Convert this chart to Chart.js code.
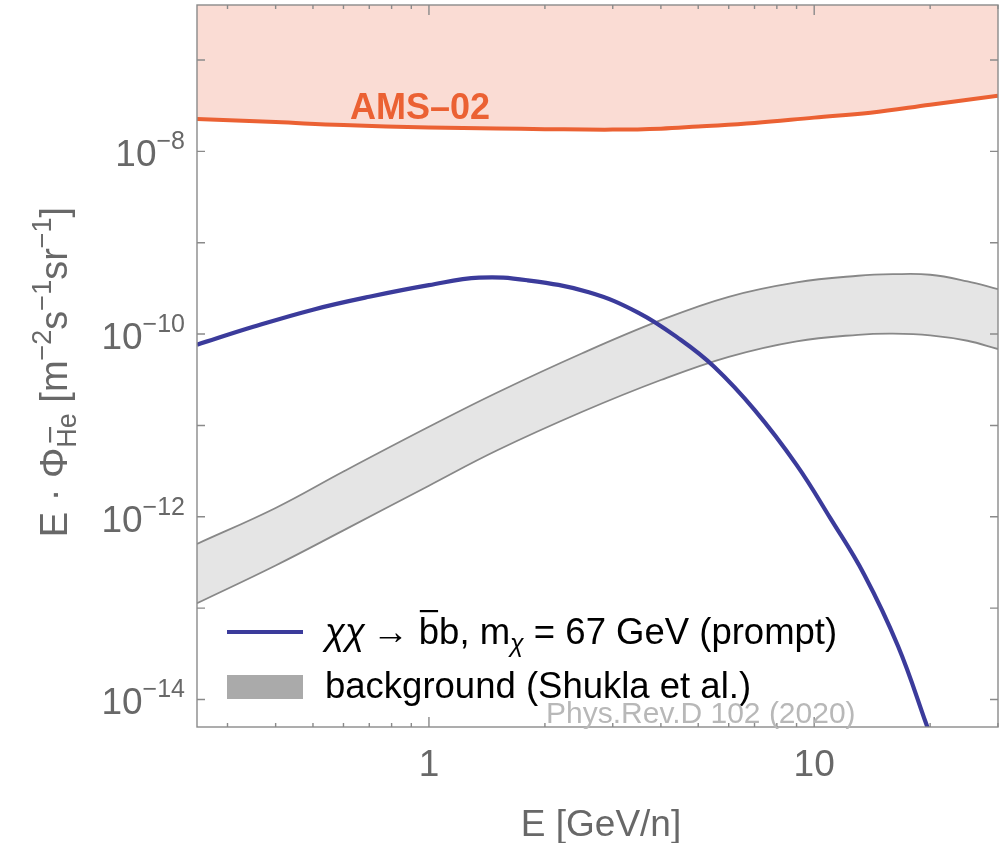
<!DOCTYPE html>
<html lang="en">
<head>
<meta charset="UTF-8">
<title>Antihelium flux</title>
<script src="https://cdn.jsdelivr.net/npm/chart.js"></script>
<style>
  html, body { margin: 0; padding: 0; background: #fff; }
  #wrap { width: 1007px; height: 843px; }
</style>
</head>
<body>
<div id="wrap"><canvas id="fluxChart" width="1007" height="843"></canvas></div>
<script>
  // AMS-02 sensitivity (lower edge of the shaded region)
  const amsEnergy = [0.25, 0.4, 0.6, 1, 1.5, 2, 3, 4, 5, 7, 10, 14, 20, 30];
  const amsFlux = [2.26e-8, 2.09e-8, 1.94e-8, 1.83e-8, 1.78e-8, 1.75e-8, 1.73e-8, 1.77e-8, 1.87e-8, 2.04e-8, 2.34e-8, 2.65e-8, 3.24e-8, 4.07e-8];

  // chi chi -> b bbar, m = 67 GeV (prompt)
  const dmEnergy = [0.25, 0.35, 0.5, 0.7, 1.0, 1.35, 1.8, 2.6, 3.5, 4.5, 5.5, 7, 9, 11, 13.5, 16.5, 19.5, 21];
  const dmFlux = [7.64e-11, 1.20e-10, 1.85e-10, 2.56e-10, 3.43e-10, 4.14e-10, 3.88e-10, 2.87e-10, 1.71e-10, 8.67e-11, 4.39e-11, 1.48e-11, 3.70e-12, 9.72e-13, 2.31e-13, 3.85e-14, 5.52e-15, 2.2e-15];

  // background band (Shukla et al.)
  const bgEnergy = [0.25, 0.4, 0.6, 1, 1.5, 2.5, 4, 6, 9, 13, 16, 20, 25, 30];
  const bgHigh = [5.05e-13, 1.25e-12, 3.13e-12, 9.66e-12, 2.28e-11, 6.17e-11, 1.42e-10, 2.56e-10, 3.68e-10, 4.35e-10, 4.52e-10, 4.46e-10, 3.78e-10, 3.11e-10];
  const bgLow = [1.13e-13, 2.93e-13, 7.10e-13, 2.19e-12, 5.31e-12, 1.41e-11, 3.14e-11, 5.64e-11, 8.34e-11, 9.82e-11, 1.01e-10, 9.70e-11, 8.45e-11, 6.86e-11];

  // axis ticks
  const xLabelTicks = [1, 10];
  const xMinorTicks = [0.3, 0.4, 0.5, 0.6, 0.7, 0.8, 0.9, 2, 3, 4, 5, 6, 7, 8, 9, 20, 30];
  const yLabelExps = [-14, -12, -10, -8];
  const yMinorExps = [-13, -11, -9, -7];

  const FONT = "'Liberation Sans', Arial, sans-serif";
  const BLUE = '#3b3b9b';
  const ORANGE = '#eb6133';

  const pts = (xs, ys) => xs.map((x, i) => ({ x: x, y: ys[i] }));

  function runsWidth(ctx, runs) {
    let w = 0;
    runs.forEach(r => { ctx.font = r.font; w += ctx.measureText(r.text).width; });
    return w;
  }

  function drawRuns(ctx, runs, x, y, align) {
    const w = runsWidth(ctx, runs);
    let cx = align === 'center' ? x - w / 2 : (align === 'right' ? x - w : x);
    runs.forEach(r => {
      ctx.font = r.font;
      const rw = ctx.measureText(r.text).width;
      const by = y + (r.dy || 0);
      ctx.fillText(r.text, cx, by);
      if (r.bar) {
        ctx.fillRect(cx + rw * r.bar[0], by - r.bar[2], rw * (r.bar[1] - r.bar[0]), 2.2);
      }
      cx += rw;
    });
  }

  const decorPlugin = {
    id: 'decor',
    afterDatasetsDraw(chart) {
      const ctx = chart.ctx;
      const area = chart.chartArea;
      const xs = chart.scales.x;
      const ys = chart.scales.y;
      ctx.save();

      // frame
      ctx.strokeStyle = '#8a8a8a';
      ctx.lineWidth = 1.4;
      ctx.strokeRect(area.left, area.top, area.right - area.left, area.bottom - area.top);

      // inward ticks
      ctx.beginPath();
      xLabelTicks.concat(xMinorTicks).forEach(v => {
        const px = xs.getPixelForValue(v);
        const len = xLabelTicks.includes(v) ? 10 : 4;
        ctx.moveTo(px, area.bottom); ctx.lineTo(px, area.bottom - len);
        ctx.moveTo(px, area.top); ctx.lineTo(px, area.top + len);
      });
      yLabelExps.concat(yMinorExps).forEach(e => {
        const py = ys.getPixelForValue(Math.pow(10, e));
        ctx.moveTo(area.left, py); ctx.lineTo(area.left + 8, py);
        ctx.moveTo(area.right, py); ctx.lineTo(area.right - 8, py);
      });
      ctx.stroke();

      // tick labels
      ctx.fillStyle = '#686868';
      ctx.textBaseline = 'alphabetic';
      yLabelExps.forEach(e => {
        const py = ys.getPixelForValue(Math.pow(10, e));
        drawRuns(ctx, [
          { text: '10', font: '37px ' + FONT },
          { text: '\u2212' + Math.abs(e), font: '25px ' + FONT, dy: -17 }
        ], area.left - 12, py + 15, 'right');
      });
      ctx.font = '37px ' + FONT;
      ctx.textAlign = 'center';
      xLabelTicks.forEach(v => {
        ctx.fillText(String(v), xs.getPixelForValue(v), 776);
      });
      ctx.textAlign = 'left';

      // axis titles
      drawRuns(ctx, [{ text: 'E [GeV/n]', font: '37px ' + FONT }], 601, 836, 'center');
      ctx.save();
      ctx.translate(67, 372);
      ctx.rotate(-Math.PI / 2);
      drawRuns(ctx, [
        { text: 'E \u00b7 \u03a6', font: '38px ' + FONT },
        { text: 'He', font: '27px ' + FONT, dy: 9, bar: [0.15, 0.6, 27] },
        { text: ' [m', font: '38px ' + FONT },
        { text: '\u22122', font: '27px ' + FONT, dy: -16 },
        { text: 's', font: '38px ' + FONT },
        { text: '\u22121', font: '27px ' + FONT, dy: -16 },
        { text: 'sr', font: '38px ' + FONT },
        { text: '\u22121', font: '27px ' + FONT, dy: -16 },
        { text: ']', font: '38px ' + FONT }
      ], 0, 0, 'center');
      ctx.restore();

      // AMS-02 label
      ctx.fillStyle = ORANGE;
      ctx.font = 'bold 36px ' + FONT;
      ctx.fillText('AMS\u201302', 350, 119);

      // legend
      ctx.strokeStyle = BLUE;
      ctx.lineWidth = 4;
      ctx.beginPath();
      ctx.moveTo(227, 632); ctx.lineTo(303, 632);
      ctx.stroke();
      ctx.fillStyle = '#aaaaaa';
      ctx.fillRect(227, 675, 76, 24);

      ctx.fillStyle = '#000';
      drawRuns(ctx, [
        { text: '\u03c7\u03c7', font: 'italic 36.5px ' + FONT },
        { text: '\u2009\u2192 ', font: '36.5px ' + FONT },
        { text: 'b', font: '36.5px ' + FONT, bar: [0.05, 0.95, 34] },
        { text: 'b, m', font: '36.5px ' + FONT },
        { text: '\u03c7', font: 'italic 25px ' + FONT, dy: 8 },
        { text: ' = 67 GeV (prompt)', font: '36.5px ' + FONT }
      ], 325, 644, 'left');
      drawRuns(ctx, [{ text: 'background (Shukla et al.)', font: '36.5px ' + FONT }], 325, 698, 'left');

      // citation
      ctx.fillStyle = '#b8b8b8';
      ctx.font = '30px ' + FONT;
      ctx.fillText('Phys.Rev.D 102 (2020)', 546, 723);

      ctx.restore();
    }
  };

  const lineStyle = { pointRadius: 0, tension: 0.4, clip: 0 };

  const ctx = document.getElementById('fluxChart').getContext('2d');
  const fluxChart = new Chart(ctx, {
    type: 'line',
    data: {
      datasets: [
        Object.assign({
          label: 'AMS-02',
          data: pts(amsEnergy, amsFlux),
          borderColor: ORANGE,
          backgroundColor: '#fadcd4',
          borderWidth: 4,
          fill: 'end',
          order: 3
        }, lineStyle),
        Object.assign({
          label: 'background low',
          data: pts(bgEnergy, bgLow),
          borderColor: '#888888',
          borderWidth: 1.8,
          fill: false,
          order: 2
        }, lineStyle),
        Object.assign({
          label: 'background high',
          data: pts(bgEnergy, bgHigh),
          borderColor: '#888888',
          backgroundColor: '#e5e5e5',
          borderWidth: 1.8,
          fill: '-1',
          order: 1
        }, lineStyle),
        Object.assign({
          label: 'prompt',
          data: pts(dmEnergy, dmFlux),
          borderColor: BLUE,
          borderWidth: 4.2,
          fill: false,
          order: 0
        }, lineStyle)
      ]
    },
    options: {
      responsive: false,
      animation: false,
      layout: { padding: { left: 197, top: 5, right: 9, bottom: 116 } },
      scales: {
        x: { type: 'logarithmic', min: 0.25, max: 30, display: false },
        y: { type: 'logarithmic', min: 5e-15, max: 4e-7, display: false }
      },
      plugins: {
        legend: { display: false },
        tooltip: { enabled: false },
        filler: { drawTime: 'beforeDatasetsDraw' }
      }
    },
    plugins: [decorPlugin]
  });
</script>
</body>
</html>
